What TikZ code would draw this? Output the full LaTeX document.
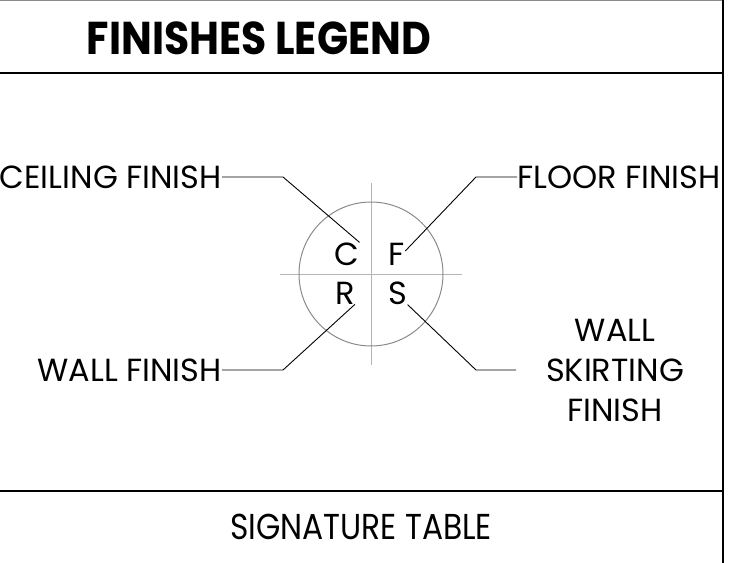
\documentclass[tikz,border=0pt]{standalone}
\usepackage{fontspec}
\setmainfont{Poppins}
\usepackage{tikz}
\usetikzlibrary{positioning}
\definecolor{LegendGrey}{HTML}{8A8A8A}
\definecolor{CrossGrey}{HTML}{B4B4B4}
\tikzset{
  tag/.style={inner sep=0pt,font=\fontsize{32}{40}\selectfont},
  letter/.style={inner sep=0pt,font=\fontsize{32}{34}\selectfont},
  leader/.style={draw=black,line width=0.9pt},
  rule/.style={draw=black,line width=2pt},
  cross/.style={draw=CrossGrey,line width=1pt}
}
\begin{document}
\begin{tikzpicture}[x=1pt,y=-1pt]
  \useasboundingbox (0,0) rectangle (732,563);
  % frame
  \draw[draw=LegendGrey,line width=1pt] (0,0.5) -- (723,0.5);
  \draw[rule] (723,0) -- (723,563);
  \draw[rule] (0,73) -- (723,73);
  \draw[rule] (0,491) -- (723,491);
  \node[font=\bfseries\fontsize{46}{50}\selectfont,inner sep=0pt] (title) at (259,38) {\scalebox{0.89}[1]{FINISHES LEGEND}};
  \node[font=\fontsize{36}{40}\selectfont,inner sep=0pt] (sign) at (361,527) {\scalebox{0.87}[1]{SIGNATURE TABLE}};
  % symbol
  \coordinate (mid) at (371,274);
  \draw[cross] (371,183) -- (371,365);
  \draw[cross] (280,274) -- (462,274);
  \draw[draw=LegendGrey,line width=1pt] (mid) circle (72);
  \node[letter] (c) at (347,254) {C};
  \node[letter] (f) at (397,254) {F};
  \node[letter] (r) at (345,293) {R};
  \node[letter] (s) at (398,293) {S};
  % labels
  \node[tag,anchor=east] (ceil) at (222,177) {CEILING FINISH};
  \node[tag,anchor=west] (floor) at (517,177) {FLOOR FINISH};
  \node[tag,anchor=east] (wall) at (222,370) {WALL FINISH};
  \node[tag,align=center] (skirt) at (615,370) {WALL\\SKIRTING\\FINISH};
  \coordinate (k1) at (283,177);
  \coordinate (k2) at (476,177);
  \coordinate (k3) at (283,370);
  \coordinate (k4) at (476,370);
  \coordinate (k5) at (516,370);
  \draw[leader] (ceil.east) -- (k1) -- (c.north east);
  \draw[leader] (floor.west) -- (k2) -- (f.20);
  \draw[leader] (wall.east) -- (k3) -- (r.south east);
  \draw[leader] (k5) -- (k4) -- (s.south east);
\end{tikzpicture}
\end{document}
